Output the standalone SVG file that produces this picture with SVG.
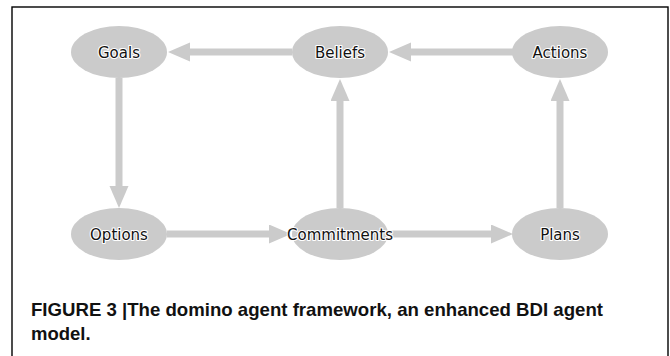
<svg xmlns="http://www.w3.org/2000/svg" width="670" height="356" viewBox="0 0 670 356">
  <style>
    .node ellipse { fill: #cbcbcb; }
    .node text { font-family: "DejaVu Sans", sans-serif; font-size: 15px; fill: #111; text-anchor: middle; stroke: #ffffff; stroke-width: 2.2px; stroke-linejoin: round; paint-order: stroke; }
    .edge { stroke: #cbcbcb; stroke-width: 7; fill: none; }
    .caption { font-family: "Liberation Sans", Arial, sans-serif; font-weight: bold; font-size: 18.5px; fill: #111; }
  </style>
  <defs>
    <marker id="arrow" markerUnits="userSpaceOnUse" markerWidth="23" markerHeight="20" refX="1" refY="9.5" orient="auto">
      <path d="M0,0 L22,9.5 L0,19 Z" fill="#cbcbcb"/>
    </marker>
  </defs>
  <rect x="12" y="7" width="656" height="362" fill="#ffffff" stroke="#000000" stroke-width="1.4"/>
  <g id="connectors">
    <line class="edge" x1="292" y1="52" x2="189" y2="52" marker-end="url(#arrow)"/>
    <line class="edge" x1="513" y1="52" x2="410" y2="52" marker-end="url(#arrow)"/>
    <line class="edge" x1="119" y1="78" x2="119" y2="187" marker-end="url(#arrow)"/>
    <line class="edge" x1="340" y1="208" x2="340" y2="100" marker-end="url(#arrow)"/>
    <line class="edge" x1="560" y1="208" x2="560" y2="100" marker-end="url(#arrow)"/>
    <line class="edge" x1="167" y1="234" x2="270" y2="234" marker-end="url(#arrow)"/>
    <line class="edge" x1="389" y1="234" x2="492" y2="234" marker-end="url(#arrow)"/>
  </g>
  <g id="node-goals" class="node">
    <ellipse cx="119" cy="52" rx="48" ry="26"/>
    <text x="119" y="57.5">Goals</text>
  </g>
  <g id="node-beliefs" class="node">
    <ellipse cx="340" cy="52" rx="48" ry="26"/>
    <text x="340" y="57.5">Beliefs</text>
  </g>
  <g id="node-actions" class="node">
    <ellipse cx="560" cy="52" rx="48" ry="26"/>
    <text x="560" y="57.5">Actions</text>
  </g>
  <g id="node-options" class="node">
    <ellipse cx="119" cy="234" rx="48" ry="26"/>
    <text x="119" y="239.5">Options</text>
  </g>
  <g id="node-commitments" class="node">
    <ellipse cx="340" cy="234" rx="48" ry="26"/>
    <text x="340" y="239.5">Commitments</text>
  </g>
  <g id="node-plans" class="node">
    <ellipse cx="560" cy="234" rx="48" ry="26"/>
    <text x="560" y="239.5">Plans</text>
  </g>
  <g id="caption">
    <text class="caption" x="31" y="316" textLength="572" lengthAdjust="spacingAndGlyphs">FIGURE 3 |The domino agent framework, an enhanced BDI agent</text>
    <text class="caption" x="31" y="340">model.</text>
  </g>
</svg>
